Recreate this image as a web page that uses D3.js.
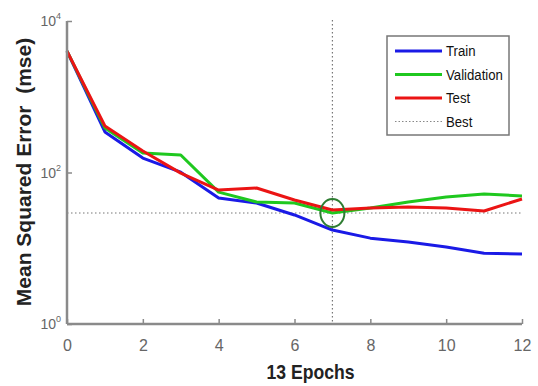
<!DOCTYPE html>
<html>
<head>
<meta charset="utf-8">
<script src="https://cdn.jsdelivr.net/npm/d3@7"></script>
<style>
  body { margin: 0; background: #fff; }
  text { font-family: "Liberation Sans", Arial, sans-serif; }
</style>
</head>
<body>
<div id="chart"></div>
<script>
// data
const epochs = [0, 1, 2, 3, 4, 5, 6, 7, 8, 9, 10, 11, 12];
const trainMse = [4000, 343, 155, 101, 46, 39.6, 27.5, 17.4, 13.6, 12.1, 10.4, 8.6, 8.4];
const validMse = [4000, 387, 181, 170, 55, 40.8, 39.6, 29.2, 34, 40.8, 47.5, 52, 49];
const testMse = [4000, 411, 192, 98, 58.7, 62.4, 43.4, 32, 34, 35, 34, 31, 44.7];
const bestEpoch = 7;
const xTicks = [0, 2, 4, 6, 8, 10, 12];
const yTickExps = [0, 2, 4];
const seriesNames = ["Train", "Validation", "Test", "Best"];

const width = 538, height = 386;
const margin = { top: 21, right: 16, bottom: 62, left: 67 };

const x = d3.scaleLinear().domain([0, 12]).range([margin.left, width - margin.right]);
const y = d3.scaleLog().domain([1, 10000]).range([height - margin.bottom, margin.top]);

const colors = { Train: "#1a1ae6", Validation: "#1fc81f", Test: "#eb1414" };

const svg = d3.select("#chart").append("svg")
    .attr("width", width)
    .attr("height", height);

// best lines
const bestVal = validMse[epochs.indexOf(bestEpoch)];
svg.append("line")
    .attr("x1", x(bestEpoch)).attr("x2", x(bestEpoch))
    .attr("y1", y(10000) - 1).attr("y2", y(1))
    .attr("stroke", "#777").attr("stroke-width", 1.2)
    .attr("stroke-dasharray", "1.5,2.5");
svg.append("line")
    .attr("x1", x(0)).attr("x2", x(12))
    .attr("y1", y(bestVal)).attr("y2", y(bestVal))
    .attr("stroke", "#777").attr("stroke-width", 1.2)
    .attr("stroke-dasharray", "1.5,2.5");

// series lines
const line = d3.line()
    .x((d, i) => x(epochs[i]))
    .y(d => y(d));

[["Train", trainMse], ["Validation", validMse], ["Test", testMse]].forEach(([name, vals]) => {
    svg.append("path")
        .datum(vals)
        .attr("fill", "none")
        .attr("stroke", colors[name])
        .attr("stroke-width", 3)
        .attr("stroke-linejoin", "round")
        .attr("d", line);
});

// best marker
svg.append("ellipse")
    .attr("cx", x(bestEpoch))
    .attr("cy", y(bestVal))
    .attr("rx", 12)
    .attr("ry", 14)
    .attr("fill", "none")
    .attr("stroke", "#2e7d32")
    .attr("stroke-width", 2);

// axes
const xAxis = d3.axisBottom(x).tickValues(xTicks).tickSize(-5).tickPadding(15).tickFormat(d3.format("d"));
const gx = svg.append("g")
    .attr("transform", `translate(0,${y(1)})`)
    .call(xAxis);
gx.select(".domain").attr("stroke", "#8a8a8a").attr("stroke-width", 2.5).attr("d", `M${x(0)},0H${x(12)}`);
gx.selectAll(".tick line").attr("stroke", "#8a8a8a").attr("stroke-width", 1.5);
gx.selectAll(".tick text").attr("fill", "#666").style("font-size", "16px").attr("dy", "0.75em");

const gy = svg.append("g")
    .attr("transform", `translate(${x(0)},0)`)
    .call(d3.axisLeft(y).tickValues(yTickExps.map(e => Math.pow(10, e))).tickSize(-5).tickFormat(""));
gy.select(".domain").attr("stroke", "#8a8a8a").attr("stroke-width", 2.5).attr("d", `M0,${y(10000)}V${y(1)}`);
gy.selectAll(".tick line").attr("stroke", "#8a8a8a").attr("stroke-width", 1.5);

// y tick labels 10^n
yTickExps.forEach(e => {
    const t = svg.append("text")
        .attr("x", x(0) - 6)
        .attr("y", y(Math.pow(10, e)) + 5)
        .attr("text-anchor", "end")
        .attr("fill", "#666")
        .style("font-size", "14px");
    t.append("tspan").text("10");
    t.append("tspan").attr("dy", -7).style("font-size", "9px").text(e);
});

// axis labels
svg.append("text")
    .attr("transform", `translate(${(x(0) + x(12)) / 2 + 16},${height - 7}) scale(0.88,1)`)
    .attr("text-anchor", "middle")
    .style("font-size", "20px")
    .style("font-weight", "bold")
    .attr("fill", "#222")
    .text("13 Epochs");

svg.append("text")
    .attr("transform", `translate(31,${172}) rotate(-90)`)
    .attr("text-anchor", "middle")
    .style("font-size", "21px")
    .style("font-weight", "bold")
    .attr("fill", "#222")
    .style("white-space", "pre")
    .text("Mean Squared Error  (mse)");

// legend
const legend = svg.append("g").attr("transform", "translate(387,36)");
legend.append("rect")
    .attr("width", 122).attr("height", 99)
    .attr("fill", "#fff")
    .attr("stroke", "#777").attr("stroke-width", 1.5);

seriesNames.forEach((name, i) => {
    const yy = 15 + i * 23.5;
    const l = legend.append("line")
        .attr("x1", 8).attr("x2", 55)
        .attr("y1", yy).attr("y2", yy);
    if (name === "Best") {
        l.attr("stroke", "#888").attr("stroke-width", 1).attr("stroke-dasharray", "1.5,2");
    } else {
        l.attr("stroke", colors[name]).attr("stroke-width", 3);
    }
    legend.append("text")
        .attr("transform", `translate(59,${yy + 5}) scale(0.88,1)`)
        .style("font-size", "15px")
        .attr("fill", "#111")
        .text(name);
});
</script>
</body>
</html>
